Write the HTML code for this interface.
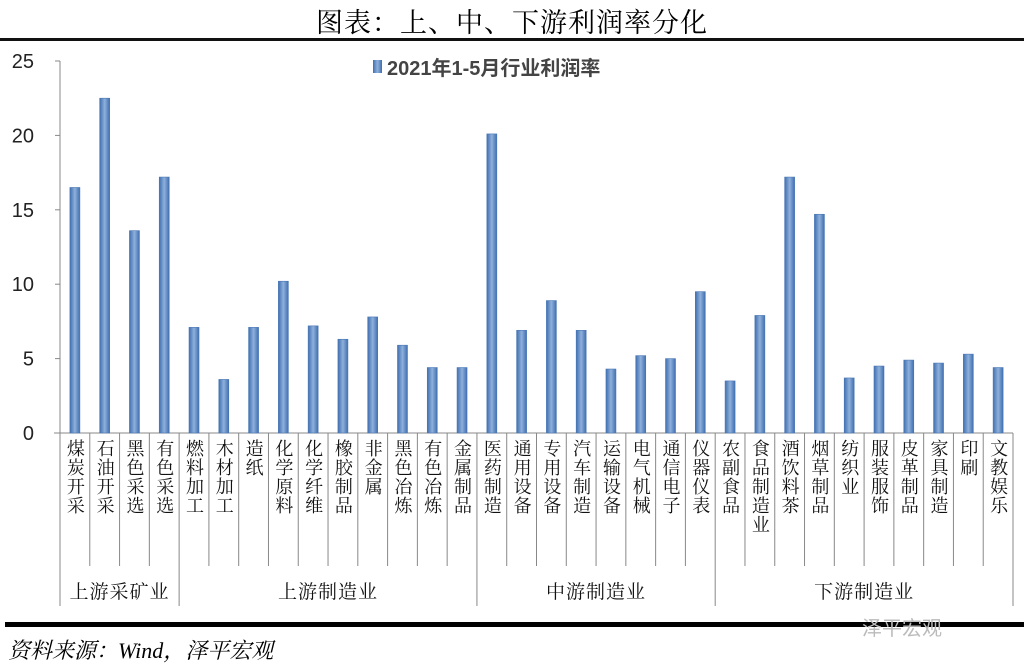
<!DOCTYPE html>
<html><head><meta charset="utf-8"><style>
body{margin:0;background:#fff;width:1024px;height:668px;overflow:hidden;position:relative;font-family:"Liberation Sans","Noto Sans CJK SC",sans-serif}
.t{position:absolute}
.cl{position:absolute;top:439px;width:30px;writing-mode:vertical-rl;text-orientation:upright;font-size:18px;line-height:30px;letter-spacing:1px;color:#111;font-family:"Liberation Serif","Noto Serif CJK SC",serif;text-align:left}
</style></head><body>
<div class="t" style="left:0;width:1024px;top:1px;text-align:center;font-size:27px;letter-spacing:1px;font-family:'Liberation Serif','Noto Serif CJK SC',serif">图表：上、中、下游利润率分化</div>
<div class="t" style="left:0;top:38px;width:1024px;height:3px;background:#111"></div>
<svg class="t" style="left:0;top:0" width="1024" height="668" id="chart"></svg>
<div id="labels"></div>
<div class="t" style="left:5px;top:622px;width:1019px;height:5px;background:#000"></div>
<div class="t" style="left:862px;top:612px;font-size:20px;color:#bbb">泽平宏观</div>
<div class="t" style="left:8px;top:634px;font-size:22px;font-style:italic;font-family:'Liberation Serif','Noto Serif CJK SC',serif">资料来源：Wind，泽平宏观</div>
<script>
const categories=["煤炭开采","石油开采","黑色采选","有色采选","燃料加工","木材加工","造纸","化学原料","化学纤维","橡胶制品","非金属","黑色冶炼","有色冶炼","金属制品","医药制造","通用设备","专用设备","汽车制造","运输设备","电气机械","通信电子","仪器仪表","农副食品","食品制造业","酒饮料茶","烟草制品","纺织业","服装服饰","皮革制品","家具制造","印刷","文教娱乐"];
const values=[16.5,22.5,13.6,17.2,7.1,3.6,7.1,10.2,7.2,6.3,7.8,5.9,4.4,4.4,20.1,6.9,8.9,6.9,4.3,5.2,5.0,9.5,3.5,7.9,17.2,14.7,3.7,4.5,4.9,4.7,5.3,4.4];
const ticks=[0,5,10,15,20,25];
const groups=["上游采矿业","上游制造业","中游制造业","下游制造业"];
const groupStarts=[0,4,14,22];
const svg=document.getElementById('chart');const NS='http://www.w3.org/2000/svg';
const labels=document.getElementById('labels');
const x0=60,x1=1013,y0=433,y1=61,max=25;
const step=(x1-x0)/categories.length;
const y=v=>y0-(v/max)*(y0-y1);
const xs=i=>x0+i*step;
function mk(t,a){const e=document.createElementNS(NS,t);for(const k in a)e.setAttribute(k,a[k]);svg.appendChild(e);return e;}
let e=mk('line',{x1:x0,y1:y1,x2:x0,y2:y0,stroke:'#888'});


e=mk('line',{x1:x0-6,y1:y0,x2:x1,y2:y0,stroke:'#888'});


ticks.forEach(t=>{
 let l=mk('line',{x1:x0-5,y1:y(t),x2:x0,y2:y(t),stroke:'#888'});
 
 
 let tx=mk('text',{x:34,y:y(t)+7,'text-anchor':'end','font-size':20,fill:'#222'});tx.textContent=t;
 
 
});
const defs=mk('defs',{});defs.innerHTML='<linearGradient id="g" x1="0" x2="1"><stop offset="0" stop-color="#3f6fb0"/><stop offset="0.5" stop-color="#8fb0db"/><stop offset="1" stop-color="#3f6fb0"/></linearGradient>';
values.forEach((v,i)=>{
 const cx=xs(i)+step/2;
 let r=mk('rect',{x:cx-5,y:y(v),width:10,height:y0-y(v),fill:'url(#g)',stroke:'#4a78b5','stroke-width':0.6});
 
 
 let l=mk('line',{x1:xs(i),y1:y0,x2:xs(i),y2:groupStarts.includes(i)?606:566,stroke:'#888'});
 
 
 let d=document.createElement('div');
 d.className='cl';
 d.style.left=(cx-15)+'px';
 d.textContent=categories[i];
 
 
 labels.appendChild(d);
});
e=mk('line',{x1:x1,y1:y0,x2:x1,y2:606,stroke:'#888'});


groups.forEach((g,k)=>{
 const a=xs(groupStarts[k]),b=xs(k<3?groupStarts[k+1]:categories.length);
 let t=mk('text',{x:(a+b)/2,y:598,'text-anchor':'middle','font-size':19,fill:'#111','letter-spacing':1,'font-family':'"Liberation Serif","Noto Serif CJK SC",serif'});
 t.textContent=g;
 
 
});
let lg=mk('rect',{x:373,y:60,width:9,height:13,fill:'url(#g)'});


let lt=mk('text',{x:387,y:75,'font-size':20,'font-weight':'bold',fill:'#444'});lt.textContent='2021年1-5月行业利润率';


</script>
</body></html>
